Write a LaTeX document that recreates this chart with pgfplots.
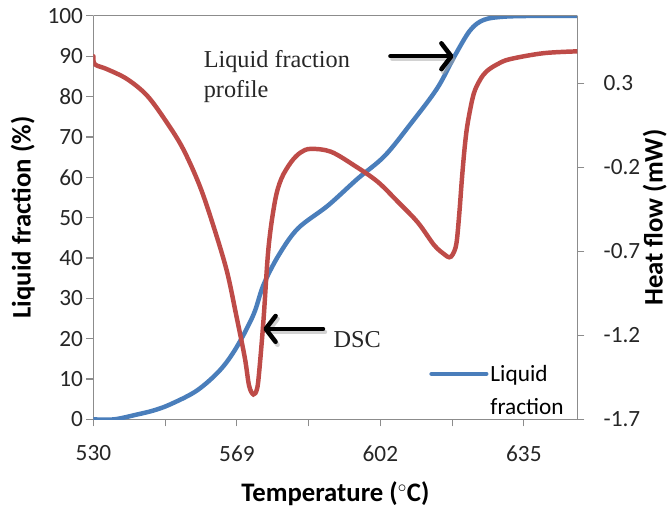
\documentclass[border=0pt]{standalone}
\usepackage{fontspec}
\setmainfont{Carlito}
\newfontfamily\annfont{Liberation Serif}
\usepackage{pgfplots}
\pgfplotsset{compat=1.18}
\usetikzlibrary{arrows.meta}

\definecolor{lfblue}{HTML}{4A7EBB}
\definecolor{dscred}{HTML}{BE4B48}
\definecolor{axgray}{HTML}{8C8C8C}
\definecolor{txt}{HTML}{262626}

% x positions: category index, 530 at 0, 569 at 2, 602 at 4, 635 at 6
\pgfplotstableread{
u     lf
0.00  0.0
0.29  0.0
0.61  1.2
0.84  2.2
1.07  3.7
1.44  7.1
1.76  12.1
1.99  17.7
2.23  25.9
2.37  33.3
2.58  40.6
2.85  47.3
3.27  53.0
3.68  59.6
4.06  65.3
4.42  73.2
4.79  82.0
5.03  89.9
5.25  96.4
5.44  99.0
5.72  99.8
6.18  100.0
6.74  100.0
}\lfdata

\pgfplotstableread{
u     hf
0.00  0.460
0.02  0.412
0.19  0.383
0.47  0.324
0.75  0.225
1.02  0.068
1.25  -0.091
1.48  -0.309
1.67  -0.546
1.86  -0.818
1.99  -1.079
2.11  -1.333
2.17  -1.500
2.23  -1.552
2.28  -1.520
2.31  -1.420
2.37  -1.114
2.44  -0.682
2.53  -0.404
2.62  -0.268
2.76  -0.167
2.89  -0.112
3.03  -0.091
3.31  -0.108
3.64  -0.191
3.96  -0.286
4.24  -0.404
4.52  -0.528
4.75  -0.664
4.89  -0.718
4.96  -0.736
5.01  -0.718
5.06  -0.653
5.10  -0.475
5.14  -0.250
5.18  -0.061
5.22  0.070
5.30  0.235
5.39  0.320
5.48  0.370
5.62  0.410
5.80  0.442
6.27  0.478
6.74  0.489
}\dscdata

\pgfplotsset{
  common/.style={
    scale only axis, width=487bp, height=406bp,
    xmin=0, xmax=6.745,
    tick align=outside, major tick length=7bp,
    axis line style={axgray, line width=1.2bp},
    tick style={axgray, line width=1.2bp},
    /pgf/number format/assume math mode=true,
    tick label style={font=\fontsize{23.5}{27}\selectfont, text=txt},
    label style={font=\bfseries\fontsize{27}{31}\selectfont, text=black},
  },
}

\begin{document}
\begin{tikzpicture}
\begin{axis}[common,
  axis x line*=bottom, axis y line*=left,
  ymin=0, ymax=100, ytick={0,10,...,100},
  xtick={0,...,6}, xticklabels={530,,569,,602,,635},
  xticklabel style={yshift=-16bp},
  xlabel={Temperature ($^\circ$C)},
  xlabel style={at={(axis description cs:0.5,-0.185)}, anchor=center},
  ylabel={Liquid fraction (\%)},
  ylabel style={at={(axis description cs:-0.146,0.5)}, anchor=center},
  legend style={draw=none, fill=none, at={(axis cs:4.68,14.0)}, anchor=north west,
    font=\fontsize{23.5}{27}\selectfont, inner sep=0pt, row sep=12bp,
    cells={anchor=west}},
  legend image code/.code={\draw[#1, line cap=round] (0bp,0bp) -- (55bp,0bp);},
]
\addplot[lfblue, line width=4.5bp, line cap=round, smooth, tension=0.55] table[x=u, y=lf] {\lfdata};
\addlegendentry{Liquid}
\addlegendimage{empty legend}
\addlegendentry{fraction}
\draw[axgray, line width=1.2bp] (axis cs:0,100) -- (axis cs:6.745,100);
\end{axis}

\begin{axis}[common,
  axis x line=none, axis y line*=right,
  ymin=-1.7, ymax=0.7,
  ytick={-1.7,-1.2,-0.7,-0.2,0.3},
  yticklabels={-1.7,-1.2,-0.7,-0.2,0.3},
  yticklabel style={xshift=16bp},
  ylabel={Heat flow (mW)},
  ylabel style={at={(axis description cs:1.160,0.5)}, anchor=center},
]
\addplot[dscred, line width=4.5bp, line cap=round, smooth, tension=0.55] table[x=u, y=hf] {\dscdata};

% annotations
\node[font=\annfont\fontsize{24.5}{30}\selectfont, align=left, anchor=west, text=txt]
  at (axis cs:1.49,0.341) {Liquid fraction\\profile};
\draw[black!35, opacity=0.5, line width=4.5bp, line cap=round, -{Straight Barb[length=10bp,width=26bp,round]}]
  ([xshift=2bp,yshift=-3bp]axis cs:4.14,0.460) -- ([xshift=2bp,yshift=-3bp]axis cs:5.02,0.460);
\draw[black, line width=4.5bp, line cap=round, -{Straight Barb[length=10bp,width=26bp,round]}]
  (axis cs:4.14,0.460) -- (axis cs:5.02,0.460);
\draw[black!35, opacity=0.5, line width=4.5bp, line cap=round, -{Straight Barb[length=10bp,width=26bp,round]}]
  ([xshift=2bp,yshift=-3bp]axis cs:3.20,-1.162) -- ([xshift=2bp,yshift=-3bp]axis cs:2.37,-1.162);
\draw[black, line width=4.5bp, line cap=round, -{Straight Barb[length=10bp,width=26bp,round]}]
  (axis cs:3.20,-1.162) -- (axis cs:2.37,-1.162);
\node[font=\annfont\fontsize{24.5}{30}\selectfont, anchor=west, text=txt]
  at (axis cs:3.30,-1.227) {DSC};
\end{axis}
% page frame matching the reference proportions
\path (-94bp,-92bp) rectangle (576bp,422bp);
\end{tikzpicture}
\end{document}
